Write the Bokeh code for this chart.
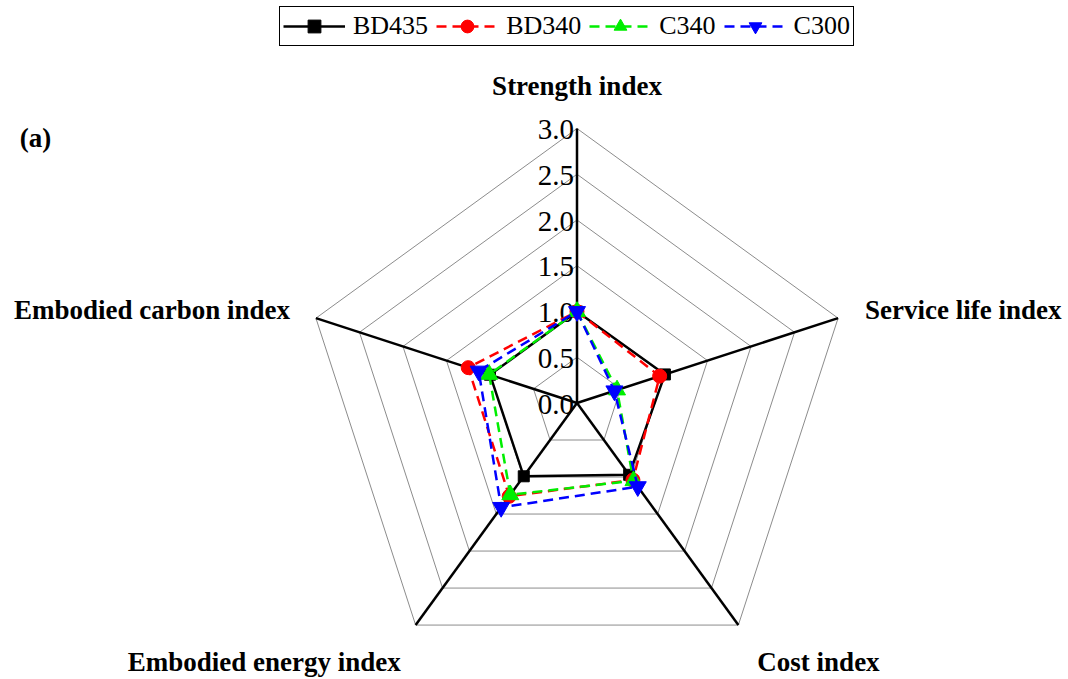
import numpy as np
from bokeh.plotting import figure
from bokeh.models import Legend, LegendItem, Range1d, Label
from bokeh.core.properties import value
from bokeh.embed import file_html
from bokeh.resources import INLINE

# ---------------- data ----------------
axis_labels = ["Strength index", "Service life index", "Cost index",
               "Embodied energy index", "Embodied carbon index"]
series_names = ["BD435", "BD340", "C340", "C300"]
bd435 = [1.00, 1.01, 0.97, 0.99, 1.00]
bd340 = [1.00, 0.95, 1.04, 1.26, 1.25]
c340 = [1.00, 0.46, 1.05, 1.24, 1.01]
c300 = [1.00, 0.43, 1.13, 1.41, 1.13]
radial_ticks = [0.0, 0.5, 1.0, 1.5, 2.0, 2.5, 3.0]
tick_labels = ["0.0", "0.5", "1.0", "1.5", "2.0", "2.5", "3.0"]
r_max = 3.0

# ---------------- layout ----------------
W, H = 1068, 679
scale = 91.5          # px per index unit
cx_px, cy_px = 576.5, 402.5  # centre inside the figure (from top-left)
FONT = "Liberation Serif"

p = figure(width=W, height=H, output_backend="svg", toolbar_location=None,
           x_range=Range1d(-cx_px / scale, (W - cx_px) / scale),
           y_range=Range1d(-(H - cy_px) / scale, cy_px / scale),
           min_border=0, outline_line_color=None)
p.axis.visible = False
p.grid.visible = False
p.background_fill_color = "white"
p.border_fill_color = "white"

n = len(axis_labels)
ang = np.deg2rad(90 - 72 * np.arange(n))
ux, uy = np.cos(ang), np.sin(ang)

def closed(vals):
    v = np.asarray(vals, dtype=float)
    xs = np.append(v * ux, v[0] * ux[0])
    ys = np.append(v * uy, v[0] * uy[0])
    return xs, ys

# grid pentagons
gx, gy = [], []
for t in radial_ticks[1:]:
    xs, ys = closed([t] * n)
    gx.append(list(xs)); gy.append(list(ys))
p.multi_line(gx, gy, line_color="#8c8c8c", line_width=1)

# spokes
p.segment(x0=[0] * n, y0=[0] * n, x1=list(r_max * ux), y1=list(r_max * uy),
          line_color="black", line_width=2.5)

# radial tick labels
p.text(x=[0] * len(radial_ticks), y=radial_ticks, text=tick_labels,
       text_font=value(FONT), text_font_size="29px", text_align="right",
       text_baseline="middle", x_offset=-3, y_offset=1, text_color="black")

# axis labels
vx, vy = r_max * ux, r_max * uy
offs = [(0, -43, "center"), (27, -8, "left"), (19, 37, "left"),
        (-15, 37, "right"), (-26, -8, "right")]
for i, lab in enumerate(axis_labels):
    xo, yo, al = offs[i]
    p.text(x=[vx[i]], y=[vy[i]], text=[lab], text_font=value(FONT),
           text_font_size="27px", text_font_style="bold", text_align=al,
           text_baseline="middle", x_offset=xo, y_offset=yo, text_color="black")

p.add_layout(Label(x=35, y=H - 137, x_units="screen", y_units="screen", text="(a)",
                   text_font=FONT, text_font_size="27px", text_font_style="bold",
                   text_color="black", text_align="center", text_baseline="middle"))

# series
styles = [
    dict(data=bd435, color="black", dash="solid", marker="square", size=11),
    dict(data=bd340, color="red", dash="10 6", marker="circle", size=14),
    dict(data=c340, color="#00ee00", dash="10 6", marker="triangle", size=17),
    dict(data=c300, color="blue", dash="10 6", marker="inverted_triangle", size=17),
]
items = []
for name, st in zip(series_names, styles):
    xs, ys = closed(st["data"])
    lr = p.line(xs, ys, line_color=st["color"], line_width=2.5, line_dash=st["dash"])
    sr = p.scatter(xs[:-1], ys[:-1], marker=st["marker"], size=st["size"],
                   fill_color=st["color"], line_color=st["color"])
    items.append(LegendItem(label=name, renderers=[lr, sr]))

legend = Legend(items=items, orientation="horizontal", location=(279, H - 46),
                label_text_font=FONT, label_text_font_size="26px",
                label_text_color="black",
                glyph_width=62, glyph_height=32, label_standoff=8, spacing=8,
                padding=3, margin=0, border_line_color="black", border_line_width=1,
                border_line_alpha=1.0,
                background_fill_alpha=1.0, label_height=30)
p.add_layout(legend, "center")

open("out.html", "w").write(file_html(p, INLINE))
